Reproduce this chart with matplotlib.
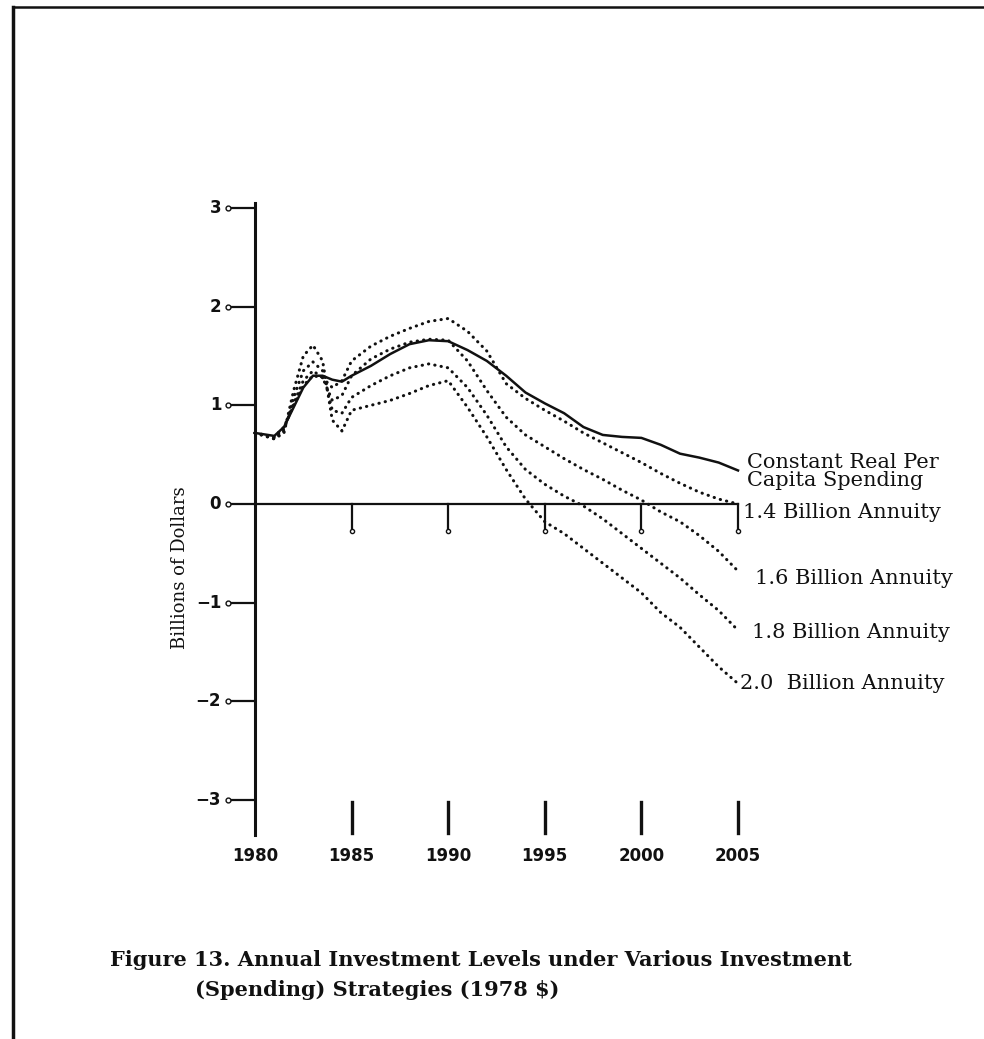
import matplotlib.pyplot as plt
from matplotlib.lines import Line2D

# data (billions of 1978 dollars)
years = [1980, 1981, 1981.5, 1982, 1982.5, 1983, 1983.5, 1984, 1984.5, 1985,
         1986, 1987, 1988, 1989, 1990, 1991, 1992, 1993, 1994, 1995,
         1996, 1997, 1998, 1999, 2000, 2001, 2002, 2003, 2004, 2005]

constant_real = [0.72, 0.69, 0.78, 0.98, 1.18, 1.30, 1.30, 1.26, 1.24, 1.30,
                 1.40, 1.52, 1.62, 1.66, 1.65, 1.56, 1.45, 1.30, 1.13, 1.02,
                 0.92, 0.78, 0.70, 0.68, 0.67, 0.60, 0.51, 0.47, 0.42, 0.34]
annuity_14 = [0.72, 0.68, 0.78, 1.00, 1.20, 1.30, 1.28, 1.18, 1.25, 1.45,
              1.60, 1.70, 1.78, 1.85, 1.88, 1.75, 1.55, 1.22, 1.07, 0.95,
              0.84, 0.72, 0.62, 0.52, 0.42, 0.31, 0.21, 0.12, 0.05, 0.00]
annuity_16 = [0.72, 0.67, 0.76, 1.02, 1.25, 1.35, 1.28, 1.05, 1.10, 1.30,
              1.47, 1.57, 1.64, 1.67, 1.66, 1.45, 1.15, 0.88, 0.70, 0.58,
              0.46, 0.35, 0.25, 0.14, 0.04, -0.08, -0.18, -0.32, -0.48, -0.68]
annuity_18 = [0.72, 0.66, 0.74, 1.08, 1.35, 1.44, 1.35, 0.95, 0.92, 1.08,
              1.20, 1.30, 1.38, 1.42, 1.38, 1.18, 0.90, 0.58, 0.35, 0.20,
              0.08, -0.02, -0.15, -0.30, -0.45, -0.60, -0.75, -0.92, -1.08, -1.28]
annuity_20 = [0.72, 0.66, 0.72, 1.15, 1.50, 1.61, 1.45, 0.85, 0.74, 0.95,
              1.00, 1.05, 1.12, 1.20, 1.25, 0.98, 0.68, 0.35, 0.05, -0.18,
              -0.30, -0.45, -0.60, -0.75, -0.90, -1.10, -1.25, -1.45, -1.65, -1.82]

series = [constant_real, annuity_14, annuity_16, annuity_18, annuity_20]
series_labels = ['Constant Real Per\nCapita Spending', '1.4 Billion Annuity',
                 '1.6 Billion Annuity', '1.8 Billion Annuity', '2.0  Billion Annuity']
label_pos = [(2005.47, 0.33), (2005.26, -0.09), (2005.88, -0.75),
             (2005.72, -1.30), (2005.10, -1.82)]

y_ticks = [3, 2, 1, 0, -1, -2, -3]
y_tick_labels = ['3', '2', '1', '0', '\u22121', '\u22122', '\u22123']
x_ticks = [1980, 1985, 1990, 1995, 2000, 2005]

fig = plt.figure(figsize=(9.84, 10.39), dpi=100)
W, H = 984, 1039
ax = fig.add_axes([255 / W, 1 - 800 / H, (738 - 255) / W, (800 - 208) / H])
ax.set_xlim(1980, 2005)
ax.set_ylim(-3, 3)
ax.axis('off')

ink = '#111111'

# page border (scan frame)
fig.add_artist(Line2D([13 / W, 13 / W], [0, 1 - 7 / H], transform=fig.transFigure,
                      color=ink, lw=2.5))
fig.add_artist(Line2D([13 / W, 1], [1 - 7 / H, 1 - 7 / H], transform=fig.transFigure,
                      color=ink, lw=1.8))

# y axis with hand drawn style ticks
ax.plot([1980, 1980], [3.05, -3.35], color=ink, lw=2.2, clip_on=False)
for v, lab in zip(y_ticks, y_tick_labels):
    ax.plot([1978.6, 1980], [v, v], color=ink, lw=1.6, clip_on=False)
    ax.plot(1978.6, v, 'o', ms=3.5, mfc='white', mec=ink, mew=1.0, clip_on=False)
    ax.text(1978.25, v, lab, ha='right', va='center', fontsize=12,
            fontweight='bold', color=ink)

# zero line with downward ticks
ax.plot([1980, 2005], [0, 0], color=ink, lw=1.6, clip_on=False)
for yr in x_ticks[1:]:
    ax.plot([yr, yr], [0, -0.27], color=ink, lw=1.6, clip_on=False)
    ax.plot(yr, -0.27, 'o', ms=3, mfc='white', mec=ink, mew=1.0, clip_on=False)

# bottom tick bars and year labels
for yr in x_ticks:
    if yr != 1980:
        ax.plot([yr, yr], [-3.02, -3.33], color=ink, lw=2.4, clip_on=False)
    ax.text(yr, -3.57, str(yr), ha='center', va='center', fontsize=12,
            fontweight='bold', color=ink)

ax.text(1976.1, -0.65, 'Billions of Dollars', rotation=90, ha='center', va='center',
        fontsize=13, family='DejaVu Serif', color=ink)

# curves
ax.plot(years, constant_real, color=ink, lw=1.8, clip_on=False)
for vals in series[1:]:
    ax.plot(years, vals, color=ink, lw=2.2, linestyle=(0, (0.1, 2.0)),
            dash_capstyle='round', clip_on=False)

for (lx, ly), lab in zip(label_pos, series_labels):
    ax.text(lx, ly, lab, ha='left', va='center', fontsize=15,
            family='DejaVu Serif', color=ink, linespacing=0.95)

fig.text(110 / W, 1 - 960 / H,
         'Figure 13. Annual Investment Levels under Various Investment',
         ha='left', va='center', fontsize=15, fontweight='bold',
         family='DejaVu Serif', color=ink)
fig.text(195 / W, 1 - 990 / H, '(Spending) Strategies (1978 $)',
         ha='left', va='center', fontsize=15, fontweight='bold',
         family='DejaVu Serif', color=ink)

fig.savefig('out.png', dpi=100, facecolor='white')
